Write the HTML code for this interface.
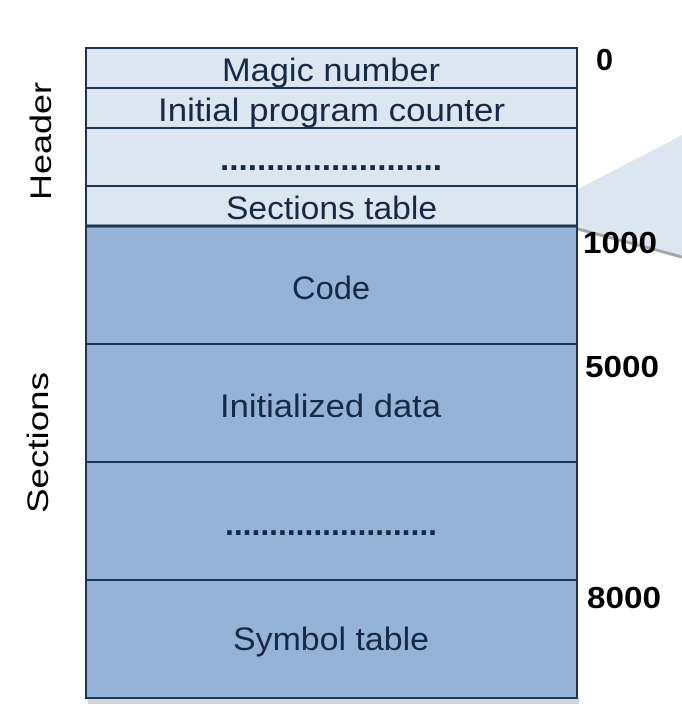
<!DOCTYPE html>
<html><head><meta charset="utf-8"><style>html,body{margin:0;padding:0;background:#fff;}svg{display:block}</style></head>
<body>
<svg width="682" height="724" viewBox="0 0 682 724" xmlns="http://www.w3.org/2000/svg">
<polygon points="578,189 682,135 682,256 578,229" fill="#dce6f0"/>
<line x1="578" y1="229" x2="682" y2="257" stroke="#a6a6a6" stroke-width="3"/>
<rect x="88" y="698" width="491" height="6" fill="#d4d4d4"/>
<g stroke="#1c3553" stroke-width="2">
<rect x="86" y="48" width="491" height="178" fill="#dce6f1"/>
<rect x="86" y="226" width="491" height="472" fill="#95b3d7"/>
<line x1="86" y1="88" x2="577" y2="88"/>
<line x1="86" y1="128" x2="577" y2="128"/>
<line x1="86" y1="186" x2="577" y2="186"/>
<line x1="86" y1="226" x2="577" y2="226" stroke-width="3"/>
<line x1="86" y1="344" x2="577" y2="344"/>
<line x1="86" y1="462" x2="577" y2="462"/>
<line x1="86" y1="580" x2="577" y2="580"/>
</g>
<g font-family="Liberation Sans, sans-serif" font-size="32" fill="#172a45">
<text x="222" y="81" textLength="218" lengthAdjust="spacingAndGlyphs">Magic number</text>
<text x="158" y="121" textLength="347" lengthAdjust="spacingAndGlyphs">Initial program counter</text>
<text x="220" y="170" textLength="222" lengthAdjust="spacingAndGlyphs" font-weight="bold">........................</text>
<text x="226" y="219" textLength="211" lengthAdjust="spacingAndGlyphs">Sections table</text>
<text x="292" y="299" textLength="78" lengthAdjust="spacingAndGlyphs">Code</text>
<text x="220" y="417" textLength="221" lengthAdjust="spacingAndGlyphs">Initialized data</text>
<text x="225" y="535" textLength="212" lengthAdjust="spacingAndGlyphs" font-weight="bold">........................</text>
<text x="233" y="650" textLength="196" lengthAdjust="spacingAndGlyphs">Symbol table</text>
</g>
<g font-family="Liberation Sans, sans-serif" font-size="31" font-weight="bold" fill="#000">
<text x="596" y="70" textLength="17" lengthAdjust="spacingAndGlyphs">0</text>
<text x="583" y="253" textLength="74" lengthAdjust="spacingAndGlyphs">1000</text>
<text x="585" y="377" textLength="74" lengthAdjust="spacingAndGlyphs">5000</text>
<text x="587" y="608" textLength="74" lengthAdjust="spacingAndGlyphs">8000</text>
</g>
<g font-family="Liberation Sans, sans-serif" font-size="30" fill="#000">
<text transform="translate(51,200) rotate(-90)" textLength="118" lengthAdjust="spacingAndGlyphs">Header</text>
<text transform="translate(48,513) rotate(-90)" textLength="141" lengthAdjust="spacingAndGlyphs">Sections</text>
</g>
</svg>
</body></html>
